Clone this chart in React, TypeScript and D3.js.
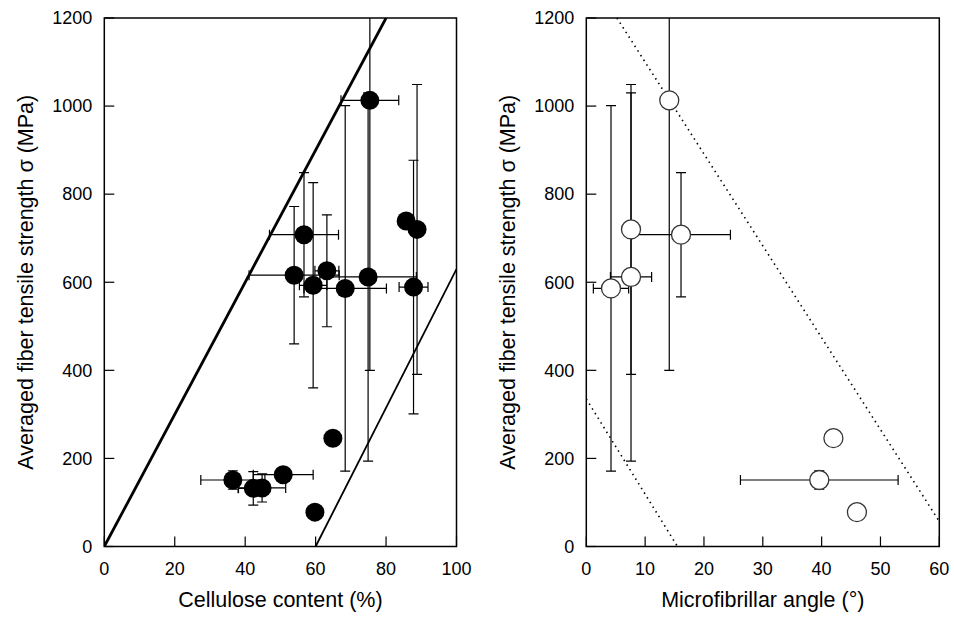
import React from "react";
import * as d3 from "d3";

// left panel: cellulose content (%) vs strength (MPa)
const cellulose = [75.4, 85.7, 88.8, 56.7, 53.9, 59.3, 63.2, 68.4, 74.9, 87.8, 64.9, 36.5, 42.3, 44.8, 50.8, 59.8];
const celluloseErr = [8.2, 0, 0, 9.8, 12.8, 3.9, 3.4, 11.7, 13.7, 4.1, 0, 9.1, 4.3, 6.7, 8.5, 0];
const strength = [1013, 739, 720, 708, 616, 593, 626, 586, 612, 589, 246, 151, 132, 133, 163, 78];
const strengthErr = [613, 0, 329, 141, 156, 233, 127, 415, 418, 288, 0, 21, 38, 32, 0, 0];

// right panel: microfibrillar angle (deg) vs strength (MPa)
const mfa = [14.1, 7.6, 16.1, 7.6, 4.2, 42, 39.6, 46];
const mfaErr = [0, 0, 8.4, 3.5, 3, 0, 13.4, 0];
const mfaStrength = [1013, 720, 708, 612, 586, 246, 151, 78];
const mfaStrengthErr = [613, 329, 141, 418, 415, 0, 21, 0];

// boundary lines [x, y] pairs
const celluloseLines = [
  [[0, 0], [80, 1200]],
  [[60, 0], [100, 630]],
];
const mfaLines = [
  [[5.2, 1200], [60, 57]],
  [[0, 335], [15.5, 0]],
];

const yTicks = [0, 200, 400, 600, 800, 1000, 1200];
const celluloseTicks = [0, 20, 40, 60, 80, 100];
const mfaTicks = [0, 10, 20, 30, 40, 50, 60];

const font = "'Liberation Sans', Arial, sans-serif";
const y = d3.scaleLinear().domain([0, 1200]).range([546.5, 18]);
const CAP = 5;

function Panel(props: any) {
  const { id, x, ticks, xs, xe, ys, ye, lines, dotted, filled, xTitle, yTitleX } = props;
  const [x0, x1] = x.range();
  const [y0, y1] = y.range();
  const line = d3.line().x((d: any) => x(d[0])).y((d: any) => y(d[1]));
  return (
    <g>
      <defs>
        <clipPath id={id}>
          <rect x={x0} y={y1} width={x1 - x0} height={y0 - y1} />
        </clipPath>
      </defs>
      <g clipPath={`url(#${id})`}>
        {lines.map((l: any, i: number) => (
          <path key={i} d={line(l) as string} fill="none" stroke="#000"
            strokeWidth={dotted ? 1.6 : i === 0 ? 2.8 : 1.8}
            strokeDasharray={dotted ? "1.5,4" : undefined} />
        ))}
        {xs.map((v: number, i: number) => {
          const cx = x(v), cy = y(ys[i]);
          return (
            <g key={i} stroke="#000" strokeWidth={1.2}>
              {ye[i] > 0 && (
                <g>
                  <line x1={cx} x2={cx} y1={y(ys[i] - ye[i])} y2={y(ys[i] + ye[i])} />
                  <line x1={cx - CAP} x2={cx + CAP} y1={y(ys[i] - ye[i])} y2={y(ys[i] - ye[i])} />
                  <line x1={cx - CAP} x2={cx + CAP} y1={y(ys[i] + ye[i])} y2={y(ys[i] + ye[i])} />
                </g>
              )}
              {xe[i] > 0 && (
                <g>
                  <line x1={x(v - xe[i])} x2={x(v + xe[i])} y1={cy} y2={cy} />
                  <line x1={x(v - xe[i])} x2={x(v - xe[i])} y1={cy - CAP} y2={cy + CAP} />
                  <line x1={x(v + xe[i])} x2={x(v + xe[i])} y1={cy - CAP} y2={cy + CAP} />
                </g>
              )}
            </g>
          );
        })}
      </g>
      {xs.map((v: number, i: number) => (
        <circle key={i} cx={x(v)} cy={y(ys[i])} r={9.5}
          fill={filled ? "#000" : "#fff"} stroke={filled ? "none" : "#333"} strokeWidth={1.3} />
      ))}
      <rect x={x0} y={y1} width={x1 - x0} height={y0 - y1} fill="none" stroke="#000" strokeWidth={1.5} />
      {ticks.map((t: number) => (
        <g key={t}>
          <line x1={x(t)} x2={x(t)} y1={y0} y2={y0 - 10} stroke="#000" strokeWidth={1.2} />
          <text x={x(t)} y={575} textAnchor="middle" fontSize={18} fontFamily={font}>{t}</text>
        </g>
      ))}
      {yTicks.map((t) => (
        <g key={t}>
          <line x1={x0} x2={x0 + 10} y1={y(t)} y2={y(t)} stroke="#000" strokeWidth={1.2} />
          <text x={x0 - 12} y={y(t)} dy="0.35em" textAnchor="end" fontSize={18} fontFamily={font}>{t}</text>
        </g>
      ))}
      <text x={(x0 + x1) / 2} y={607} textAnchor="middle" fontSize={21.5} fontFamily={font}>{xTitle}</text>
      <text transform={`translate(${yTitleX},${(y0 + y1) / 2}) rotate(-90)`} textAnchor="middle"
        fontSize={21.5} fontFamily={font}>Averaged fiber tensile strength σ (MPa)</text>
    </g>
  );
}

export default function App() {
  const xLeft = d3.scaleLinear().domain([0, 100]).range([104.3, 456.5]);
  const xRight = d3.scaleLinear().domain([0, 60]).range([586.3, 939.3]);
  return (
    <div style={{ position: "absolute", left: 0, top: 0 }}>
      <svg width={954} height={618} style={{ display: "block", background: "#fff" }}>
        <Panel id="clipL" x={xLeft} ticks={celluloseTicks} xs={cellulose} xe={celluloseErr}
          ys={strength} ye={strengthErr} lines={celluloseLines} dotted={false} filled={true}
          xTitle="Cellulose content (%)" yTitleX={33} />
        <Panel id="clipR" x={xRight} ticks={mfaTicks} xs={mfa} xe={mfaErr}
          ys={mfaStrength} ye={mfaStrengthErr} lines={mfaLines} dotted={true} filled={false}
          xTitle="Microfibrillar angle (°)" yTitleX={515} />
      </svg>
    </div>
  );
}
